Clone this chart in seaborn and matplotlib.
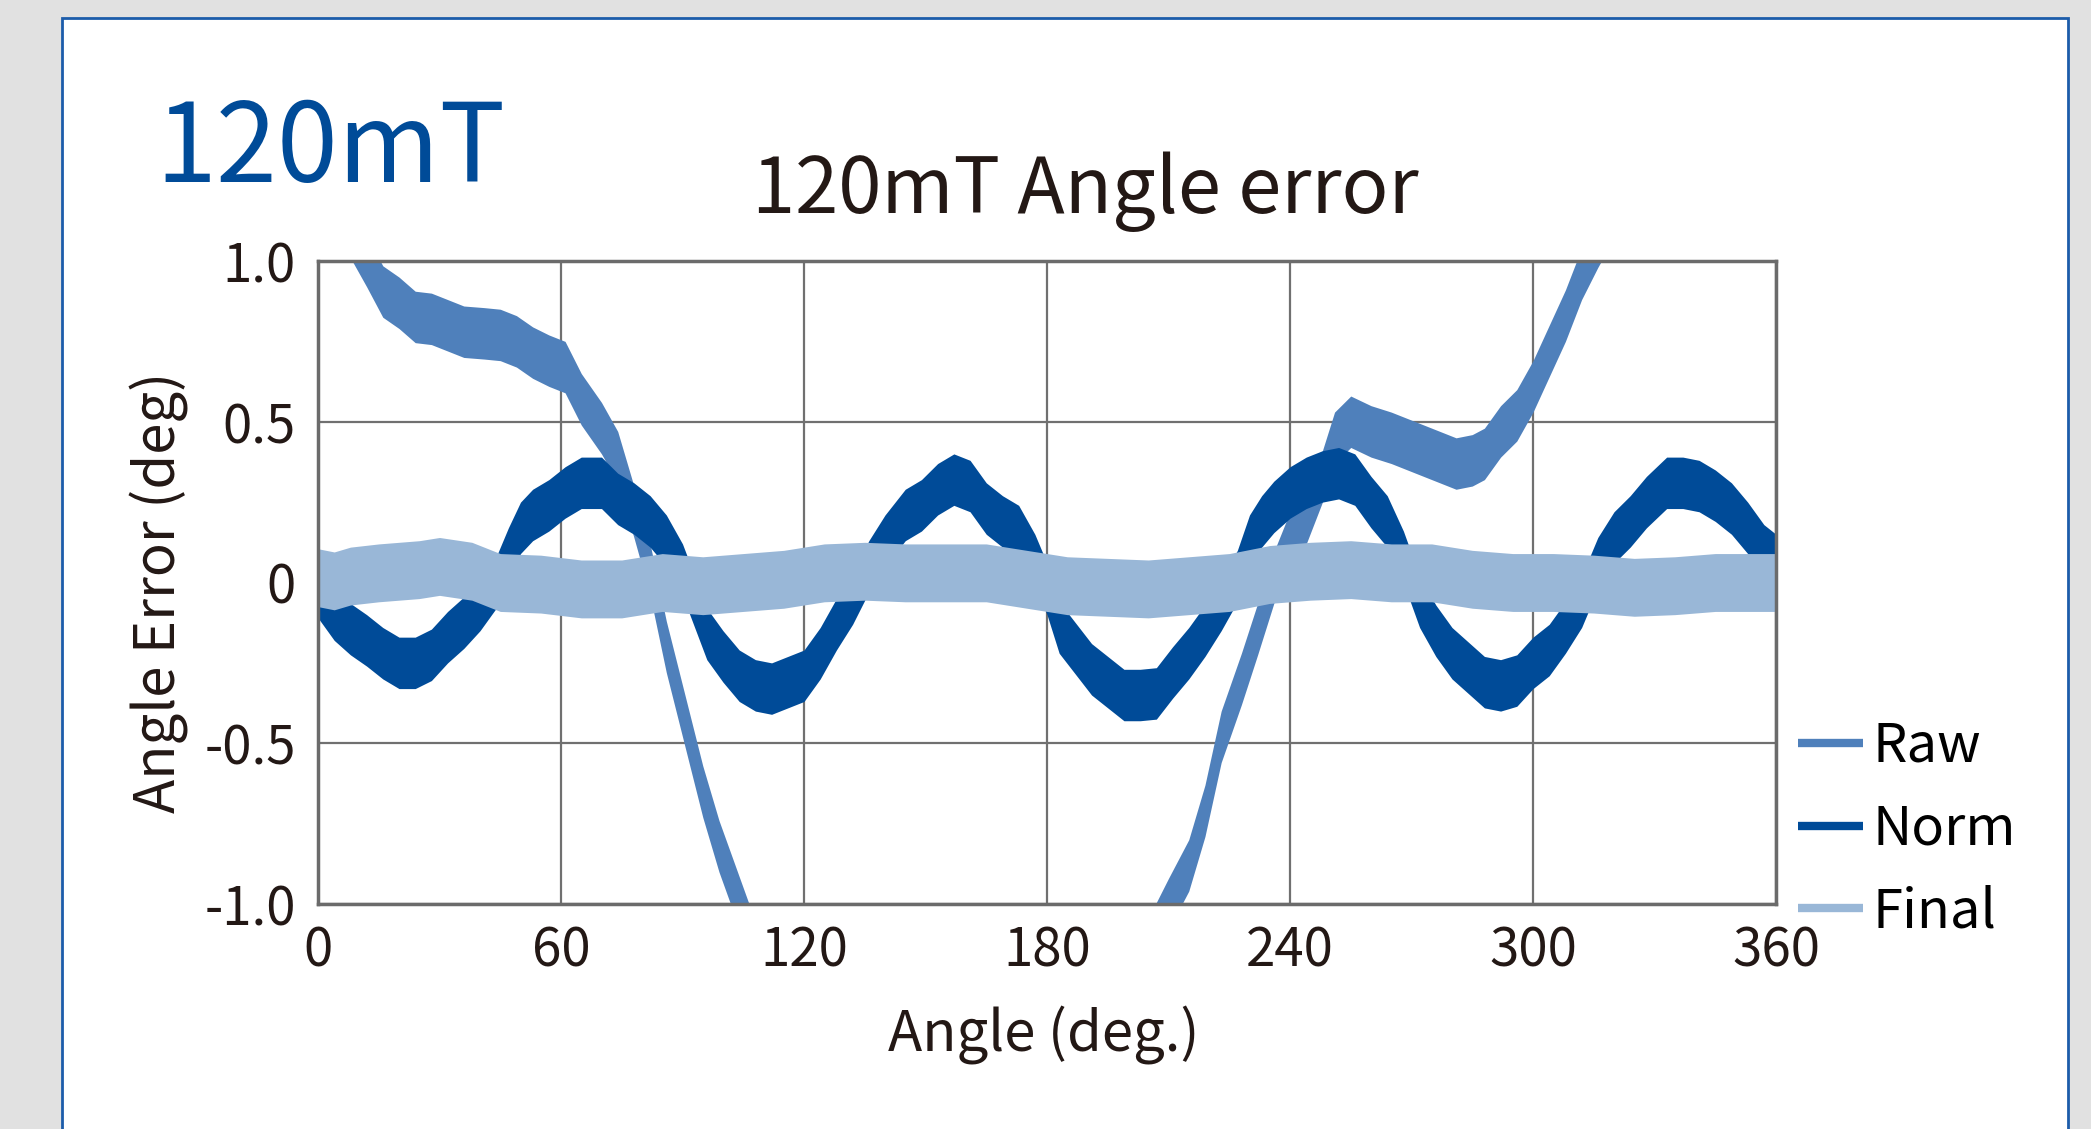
import numpy as np
import pandas as pd
import seaborn as sns
import matplotlib.pyplot as plt
from matplotlib.lines import Line2D
from matplotlib.patches import Rectangle

sns.set_style("white")
plt.rcParams['font.family'] = ['Noto Sans CJK JP', 'DejaVu Sans']

# ---- data (angle in deg, error in deg) ----
raw_angle = [4, 8, 12, 16, 20, 24, 28, 32, 36, 41, 45, 49, 53, 57, 61, 65, 70, 74, 78, 82,
             86, 90, 95, 99, 103, 107, 206, 210, 215, 219, 223, 228, 232, 236, 240, 244,
             248, 251, 255, 260, 265, 269, 273, 277, 281, 285, 288, 292, 296, 300, 304,
             308, 312, 316, 320]
raw_err = [1.20, 1.09, 1.00, 0.905, 0.87, 0.826, 0.82, 0.80, 0.78, 0.775, 0.77, 0.75, 0.715,
           0.69, 0.67, 0.57, 0.48, 0.39, 0.22, 0.04, -0.20, -0.40, -0.65, -0.82, -0.96,
           -1.10, -1.10, -1.00, -0.88, -0.71, -0.48, -0.30, -0.145, 0.015, 0.14, 0.20,
           0.33, 0.45, 0.50, 0.47, 0.45, 0.43, 0.41, 0.39, 0.37, 0.38, 0.40, 0.47, 0.52,
           0.61, 0.72, 0.83, 0.96, 1.06, 1.15]

norm_angle = [0, 4, 8, 12, 16, 20, 24, 28, 32, 36, 40, 44, 47, 50, 53, 57, 61, 65, 70, 74,
              78, 82, 86, 90, 93, 96, 100, 104, 108, 112, 116, 120, 124, 128, 132, 136, 140,
              145, 149, 153, 157, 161, 165, 169, 173, 177, 180, 183, 187, 191, 195, 199,
              203, 207, 211, 215, 219, 223, 227, 230, 233, 236, 240, 244, 248, 252, 256,
              260, 264, 268, 272, 276, 280, 284, 288, 292, 296, 300, 304, 308, 312, 316,
              320, 324, 328, 333, 337, 341, 345, 349, 353, 357, 360]
norm_err = [-0.03, -0.10, -0.145, -0.18, -0.22, -0.25, -0.25, -0.225, -0.17, -0.125, -0.07,
            0.0, 0.09, 0.17, 0.21, 0.24, 0.28, 0.31, 0.31, 0.26, 0.23, 0.19, 0.13, 0.04,
            -0.06, -0.16, -0.23, -0.29, -0.32, -0.33, -0.31, -0.29, -0.22, -0.13, -0.05,
            0.05, 0.13, 0.21, 0.24, 0.29, 0.32, 0.30, 0.23, 0.19, 0.16, 0.07, -0.02, -0.14,
            -0.205, -0.27, -0.31, -0.35, -0.35, -0.345, -0.28, -0.22, -0.15, -0.07, 0.02,
            0.13, 0.19, 0.235, 0.28, 0.31, 0.33, 0.34, 0.32, 0.25, 0.19, 0.08, -0.06, -0.15,
            -0.22, -0.265, -0.31, -0.32, -0.305, -0.25, -0.21, -0.14, -0.06, 0.06, 0.14,
            0.19, 0.25, 0.31, 0.31, 0.30, 0.27, 0.23, 0.17, 0.10, 0.07]

final_angle = [0, 4, 8, 15, 25, 30, 38, 45, 55, 65, 75, 85, 95, 105, 115, 125, 135, 145,
               155, 165, 175, 185, 195, 205, 215, 225, 235, 245, 255, 265, 275, 285, 295,
               305, 315, 325, 335, 345, 355, 360]
final_err = [0.015, 0.005, 0.02, 0.03, 0.04, 0.05, 0.035, 0.0, -0.005, -0.02, -0.02, 0.0,
             -0.01, 0.0, 0.01, 0.03, 0.035, 0.03, 0.03, 0.03, 0.01, -0.01, -0.015, -0.02,
             -0.01, 0.0, 0.025, 0.035, 0.04, 0.03, 0.03, 0.01, 0.0, 0.0, -0.005, -0.015,
             -0.01, 0.0, 0.0, 0.0]

# half of the peak-to-peak noise band of each trace
series = ["Raw", "Norm", "Final"]
noise = {"Raw": 0.08, "Norm": 0.08, "Final": 0.09}
colors = {"Raw": "#4f80bb", "Norm": "#004b98", "Final": "#99b7d7"}

rows = []
for name, ang, err in [("Raw", raw_angle, raw_err), ("Norm", norm_angle, norm_err),
                       ("Final", final_angle, final_err)]:
    for a, e in zip(ang, err):
        rows.append((name, a, e - noise[name]))
        rows.append((name, a, e + noise[name]))
df = pd.DataFrame(rows, columns=["series", "angle", "error"])

TXT = "#231815"
W, H = 2091, 1129
fig = plt.figure(figsize=(W / 100, H / 100), dpi=100, facecolor="#e1e1e1")
fig.patches.append(Rectangle((62 / W, -0.1), (2068 - 62) / W, 1.1 - 18 / H,
                             transform=fig.transFigure, facecolor="white",
                             edgecolor="#1c5caa", lw=2, zorder=-10))

ax = fig.add_axes([318 / W, 1 - 904 / H, (1776 - 318) / W, (904 - 261) / H])
sns.lineplot(data=df, x="angle", y="error", hue="series", hue_order=series, palette=colors,
             estimator="mean", errorbar=("pi", 100), err_kws={"alpha": 1, "linewidth": 0},
             linewidth=0, legend=False, ax=ax)

ax.set_xlim(0, 360)
ax.set_ylim(-1, 1)
ax.set_xticks(range(0, 361, 60))
ax.set_yticks([-1, -0.5, 0, 0.5, 1])
ax.set_yticklabels(["-1.0", "-0.5", "0", "0.5", "1.0"])
ax.tick_params(axis="both", length=0, labelsize=38, colors=TXT)
ax.tick_params(axis="y", pad=16)
ax.tick_params(axis="x", pad=14)
ax.grid(True, color="#707070", lw=1.6)
for s in ax.spines.values():
    s.set_color("#6b6b6b")
    s.set_linewidth(2.5)

ax.set_xlabel("Angle (deg.)", fontsize=40.5, color=TXT)
ax.set_ylabel("Angle Error (deg)", fontsize=40.5, color=TXT)
ax.xaxis.label.set_va("baseline")
ax.xaxis.set_label_coords(0.498, -0.230)
ax.yaxis.label.set_va("baseline")
ax.yaxis.set_label_coords(-0.098, 0.484)

fig.text(0.519, 1 - 213 / H, "120mT Angle error", fontsize=56, color=TXT,
         ha="center", va="baseline")
fig.text(0.0741, 1 - 182 / H, "120mT", fontsize=79, color="#004b98",
         ha="left", va="baseline")

handles = [Line2D([], [], color=colors[s], lw=6, solid_capstyle="butt") for s in series]
fig.legend(handles, series, loc="upper left", bbox_to_anchor=(1798 / W, 1 - 719 / H),
           frameon=False, fontsize=39, handlelength=1.2, handletextpad=0.17,
           labelspacing=0.51, borderpad=0, borderaxespad=0, labelcolor="black")

fig.savefig("out.png", dpi=100, facecolor=fig.get_facecolor())
